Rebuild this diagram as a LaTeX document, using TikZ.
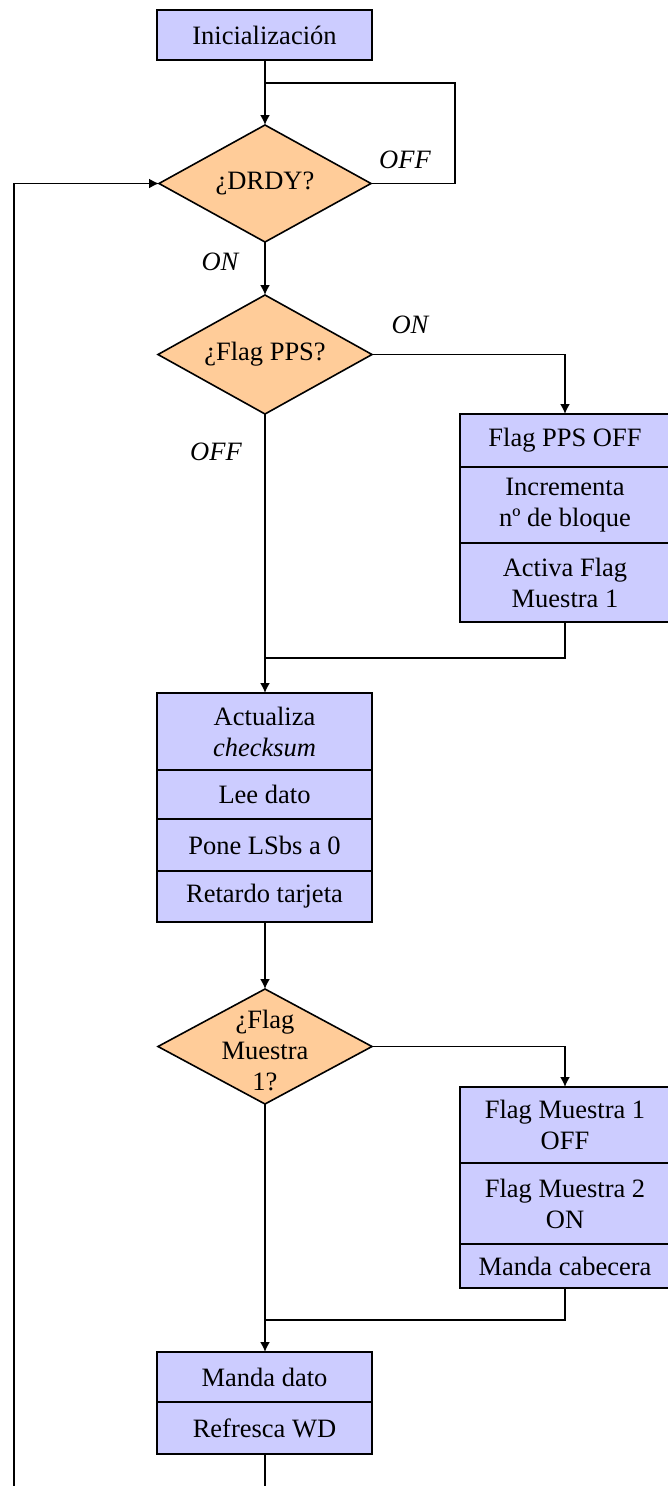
\documentclass[tikz,border=0pt]{standalone}
\usepackage{fontspec}
\setmainfont{Liberation Serif}
\usetikzlibrary{shapes.geometric,arrows.meta}
\definecolor{boxfill}{RGB}{204,204,255}
\definecolor{decfill}{RGB}{255,204,153}
\begin{document}
\begin{tikzpicture}[x=1pt,y=-1pt,
  every node/.style={font=\fontsize{26.5}{31}\selectfont, align=center},
  line/.style={line width=1.8pt, draw=black},
  arr/.style={line, -{Latex[length=10pt,width=10pt]}},
  procbox/.style={rectangle, draw=black, line width=1.8pt, fill=boxfill, inner sep=0pt, outer sep=0pt},
  decbox/.style={diamond, draw=black, line width=1.6pt, fill=decfill, inner sep=0pt, outer sep=0pt},
  lbl/.style={font=\fontsize{26.5}{31}\selectfont\itshape}
]
\useasboundingbox (0,0) rectangle (667,1486);

% Inicializacion
\node[procbox, minimum width=215pt, minimum height=50pt] (init) at (264.5,35) {Inicialización};

% DRDY diamond
\node[decbox, minimum width=212pt, minimum height=117pt] (drdy) at (265,183.5) {};
\node (drdyt) at (drdy.center) {¿DRDY?};

% Flag PPS diamond
\node[decbox, minimum width=214pt, minimum height=119pt] (pps) at (265,354.5) {};
\node (ppst) at (pps.center) {¿Flag PPS?};

% Right box 1
\node[procbox, minimum width=210pt, minimum height=53pt] (r1a) at (565,440.5) {Flag PPS OFF};
\node[procbox, minimum width=210pt, minimum height=76pt] (r1b) at (565,505) {Incrementa\\nº de bloque};
\node[procbox, minimum width=210pt, minimum height=79pt] (r1c) at (565,582.5) {Activa Flag\\Muestra 1};

% Box 2
\node[procbox, minimum width=215pt, minimum height=77pt] (b2a) at (264.5,731.5) {Actualiza\\\textit{checksum}};
\node[procbox, minimum width=215pt, minimum height=49pt] (b2b) at (264.5,794.5) {Lee dato};
\node[procbox, minimum width=215pt, minimum height=52pt] (b2c) at (264.5,845) {Pone LSbs a 0};
\node[procbox, minimum width=215pt, minimum height=51pt] (b2d) at (264.5,896.5) {Retardo tarjeta};

% Diamond 3
\node[decbox, minimum width=214pt, minimum height=115pt] (d3) at (265,1046.5) {};
\node (d3t) at (265,1050) {¿Flag\\Muestra\\1?};

% Right box 3
\node[procbox, minimum width=210pt, minimum height=76pt] (r3a) at (565,1125) {Flag Muestra 1\\OFF};
\node[procbox, minimum width=210pt, minimum height=81pt] (r3b) at (565,1203.5) {Flag Muestra 2\\ON};
\node[procbox, minimum width=210pt, minimum height=44pt] (r3c) at (565,1266) {Manda cabecera};

% Box 4
\node[procbox, minimum width=215pt, minimum height=50pt] (b4a) at (264.5,1377) {Manda dato};
\node[procbox, minimum width=215pt, minimum height=52pt] (b4b) at (264.5,1428) {Refresca WD};

% Labels
\node[lbl] (loff) at (405,160) {OFF};
\node[lbl] (lon1) at (220,262) {ON};
\node[lbl] (lon2) at (410,325) {ON};
\node[lbl] (loff2) at (216,452) {OFF};

% Coordinates
\coordinate (j1) at (265,83);
\coordinate (lx) at (455,83);
\coordinate (j2) at (265,658);
\coordinate (j3) at (265,1320);
\coordinate (bot) at (265,1486);
\coordinate (botl) at (14,1486);

% Connectors
\draw[arr] (init.south -| drdy.north) -- (drdy.north);
\draw[line] (drdy.east) -| (lx) -- (j1);
\draw[arr] (drdy.south) -- (pps.north);
\draw[arr] (pps.east) -| (r1a.north);
\draw[arr] (pps.south) -- (b2a.north -| pps.south);
\draw[line] (r1c.south) |- (j2);
\draw[arr] (b2d.south -| d3.north) -- (d3.north);
\draw[arr] (d3.east) -| (r3a.north);
\draw[arr] (d3.south) -- (b4a.north -| d3.south);
\draw[line] (r3c.south) |- (j3);
\draw[line] (b4b.south -| bot) -- (bot);
\draw[arr] (botl) |- (drdy.west);
\end{tikzpicture}
\end{document}
